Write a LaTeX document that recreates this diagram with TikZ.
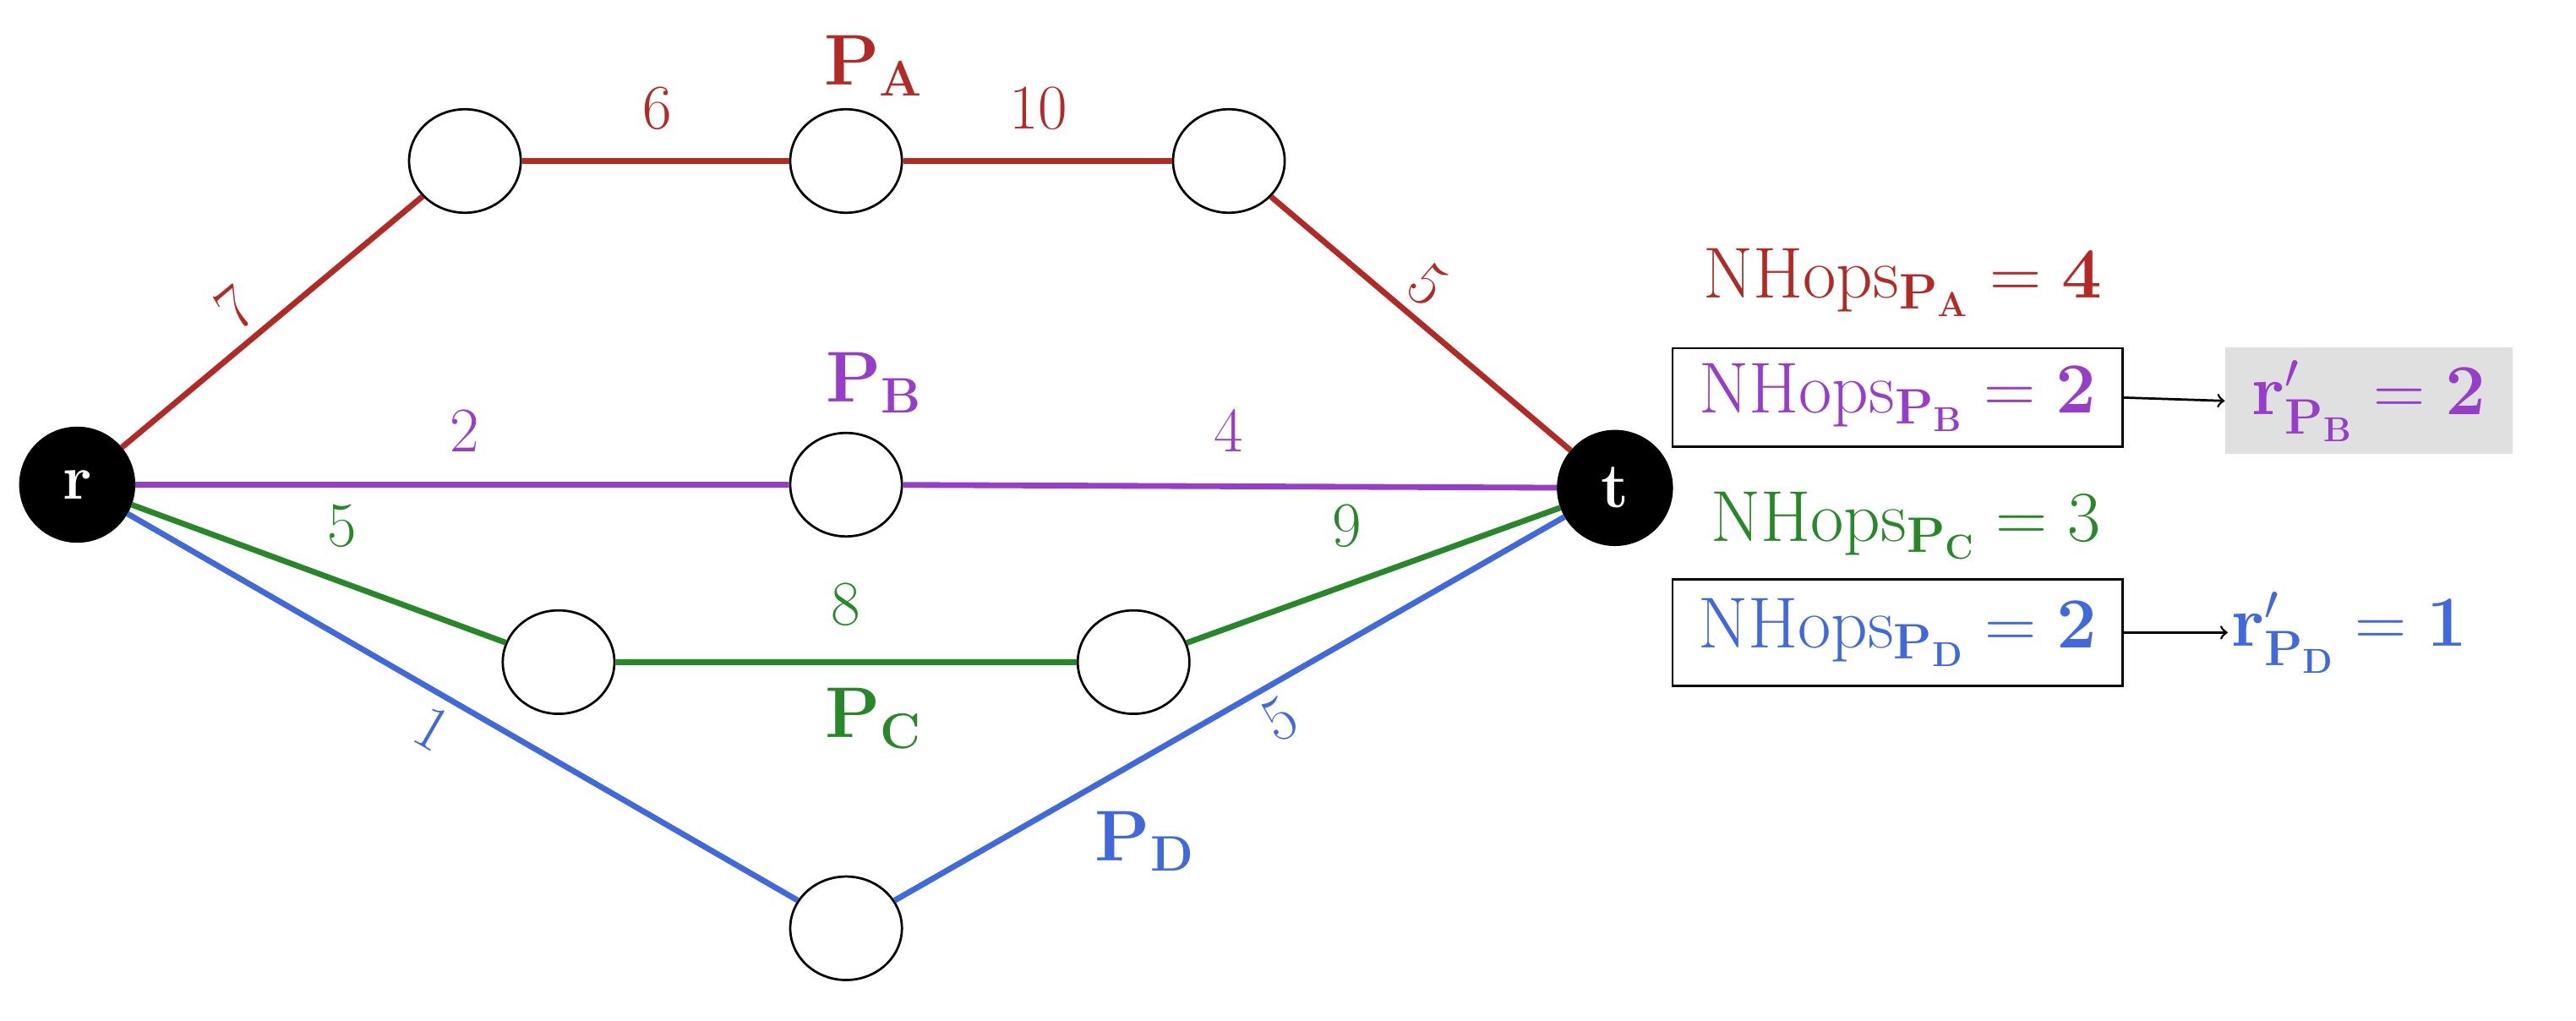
\documentclass[tikz,border=0pt]{standalone}
\usepackage{amsmath,amssymb}
\usetikzlibrary{shapes.geometric}
\definecolor{cA}{RGB}{178,42,38}
\definecolor{cB}{RGB}{150,62,200}
\definecolor{cC}{RGB}{40,135,40}
\definecolor{cD}{RGB}{65,105,220}
\begin{document}
\begin{tikzpicture}[x=0.02cm,y=-0.02cm,
  v/.style={draw,ellipse,minimum width=1.36cm,minimum height=1.26cm,line width=0.8pt,fill=white},
  bv/.style={circle,fill=black,draw=black,minimum size=1.4cm,text=white,font=\fontsize{22}{24}\selectfont\bfseries},
  e/.style={line width=2pt},
  w/.style={font=\fontsize{22}{24}\selectfont},
  pl/.style={font=\fontsize{27}{30}\selectfont},
  tx/.style={font=\fontsize{25}{28}\selectfont}]
\useasboundingbox (0,0) rectangle (1568,621);
\node[bv] (r) at (47,295) {r};
\node[bv] (t) at (983,297) {t};
\node[v] (a1) at (283,98) {};
\node[v] (a2) at (515,98) {};
\node[v] (a3) at (748,98) {};
\node[v] (b1) at (515,295) {};
\node[v] (c1) at (340,403) {};
\node[v] (c2) at (690,403) {};
\node[v] (d1) at (515,565) {};
\draw[e,cA] (r) -- node[w,pos=0.45,above,sloped] {7} (a1);
\draw[e,cA] (a1) -- (a2) (a2) -- (a3);
\draw[e,cA] (a3) -- node[w,pos=0.45,above,sloped] {5} (t);
\draw[e,cB] (r) -- (b1) -- (t);
\draw[e,cC] (r) -- (c1) -- (c2) -- (t);
\draw[e,cD] (r) -- node[w,pos=0.48,below,sloped] {1} (d1);
\draw[e,cD] (d1) -- node[w,pos=0.55,below,sloped] {5} (t);
\node[w,cA] (l6) at (400,66) {6};
\node[w,cA] (l10) at (632,66) {10};
\node[pl,cA] (pa) at (532,40) {$\mathbf{P_A}$};
\node[w,cB] (l2) at (283,262) {2};
\node[w,cB] (l4) at (748,262) {4};
\node[pl,cB] (pb) at (532,233) {$\mathbf{P_B}$};
\node[w,cC] (l5) at (208,320) {5};
\node[w,cC] (l9) at (820,320) {9};
\node[w,cC] (l8) at (515,368) {8};
\node[pl,cC] (pc) at (532,437) {$\mathbf{P_C}$};
\node[pl,cD] (pd) at (697,512) {$\mathbf{P_D}$};
\node[tx,cA] (na) at (1158,172) {NHops$_{\mathbf{P_A}}=\mathbf{4}$};
\node[tx,cB,draw=black,line width=0.8pt,minimum width=5.48cm,minimum height=1.2cm] (nb) at (1155,242) {NHops$_{\mathbf{P_B}}=\mathbf{2}$};
\node[tx,cB,fill=black!12,minimum width=3.5cm,minimum height=1.3cm] (rb) at (1442,244) {$\mathbf{r'_{P_B}=2}$};
\node[tx,cC] (nc) at (1160,320) {NHops$_{\mathbf{P_C}}=3$};
\node[tx,cD,draw=black,line width=0.8pt,minimum width=5.48cm,minimum height=1.3cm] (nd) at (1155,385) {NHops$_{\mathbf{P_D}}=\mathbf{2}$};
\node[tx,cD,inner sep=1pt,anchor=west] (rd) at (1356,385) {$\mathbf{r'_{P_D}=1}$};
\draw[->,line width=0.8pt] (nb.east) -- (rb.west);
\draw[->,line width=0.8pt] (nd.east) -- (rd.west);
\end{tikzpicture}
\end{document}
